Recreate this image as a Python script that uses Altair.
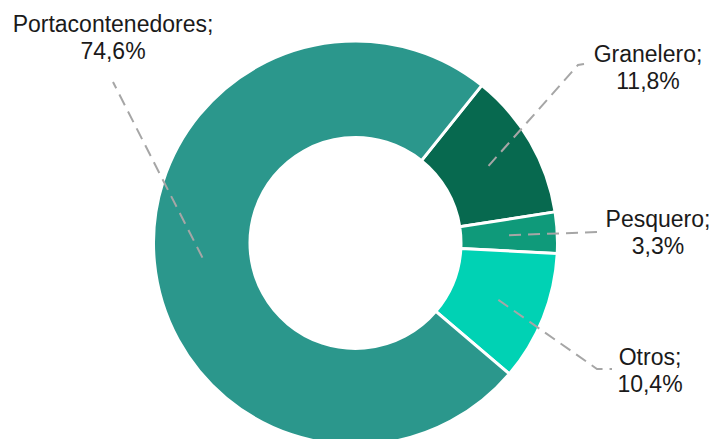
import math
import altair as alt
import pandas as pd

# ---- data ----
categories = ["Granelero", "Pesquero", "Otros", "Portacontenedores"]
shares = [11.8, 3.3, 10.4, 74.6]
share_labels = ["11,8%", "3,3%", "10,4%", "74,6%"]

# ---- layout / style ----
W, H = 713, 439
CX, CY = 355.5, 243.0
R_OUT, R_IN = 200.5, 107.0
START_DEG = 38.7
colors = ["#07694F", "#0F9A7A", "#00D2B4", "#2B978C"]
FONT = "Liberation Sans"
FS = 23
LINE_GAP = 26.6
# label placement: (center x, first baseline y) and leader outer points
label_pos = {
    "Portacontenedores": (113, 32, [(113, 82)]),
    "Granelero": (648, 62, [(578, 65), (584, 64)]),
    "Pesquero": (658, 227, [(598, 232)]),
    "Otros": (650, 365, [(597, 369), (612, 369)]),
}

df = pd.DataFrame({"cat": categories, "value": shares, "ord": list(range(len(categories)))})

# leader lines: inner point at ring middle on slice mid-angle
total = sum(shares)
r_mid = (R_OUT + R_IN) / 2
rows_line = []
rows_text = []
acc = 0.0
for c, v, lab in zip(categories, shares, share_labels):
    mid = START_DEG + (acc + v / 2) / total * 360.0
    acc += v
    a = math.radians(mid)
    px, py = CX + r_mid * math.sin(a), CY - r_mid * math.cos(a)
    lx, ly, outer = label_pos[c]
    pts = [(px, py)] + outer
    for i, (x, y) in enumerate(pts):
        rows_line.append({"cat": c, "seq": i, "px": x, "py": y})
    rows_text.append({"cat": c, "t": c + ";", "px": lx, "py": ly})
    rows_text.append({"cat": c, "t": lab, "px": lx, "py": ly + LINE_GAP})

lines_df = pd.DataFrame(rows_line)
text_df = pd.DataFrame(rows_text)

a0 = math.radians(START_DEG)
arc = alt.Chart(df).mark_arc(
    innerRadius=R_IN - 1.5, outerRadius=R_OUT + 1.5, stroke="white", strokeWidth=3
).encode(
    theta=alt.Theta("value:Q", stack=True, scale=alt.Scale(range=[a0, a0 + 2 * math.pi])),
    order=alt.Order("ord:Q"),
    color=alt.Color("cat:N", scale=alt.Scale(domain=categories, range=colors), legend=None),
    x=alt.value(CX),
    y=alt.value(CY),
)

leaders = alt.Chart(lines_df).mark_line(
    color="#A6A6A6", strokeWidth=2, strokeDash=[12, 7]
).encode(
    x=alt.X("px:Q", scale=None, axis=None),
    y=alt.Y("py:Q", scale=None, axis=None),
    detail="cat:N",
    order="seq:Q",
)

labels = alt.Chart(text_df).mark_text(
    font=FONT, fontSize=FS, color="#1A1A1A", align="center", baseline="alphabetic"
).encode(
    x=alt.X("px:Q", scale=None, axis=None),
    y=alt.Y("py:Q", scale=None, axis=None),
    text="t:N",
)

chart = alt.layer(arc, leaders, labels).properties(
    width=W, height=H, autosize=alt.AutoSizeParams(type="none"), padding=0,
    background="white",
).configure_view(stroke=None)

chart.save("out.html", embed_options={"renderer": "svg", "actions": False})
